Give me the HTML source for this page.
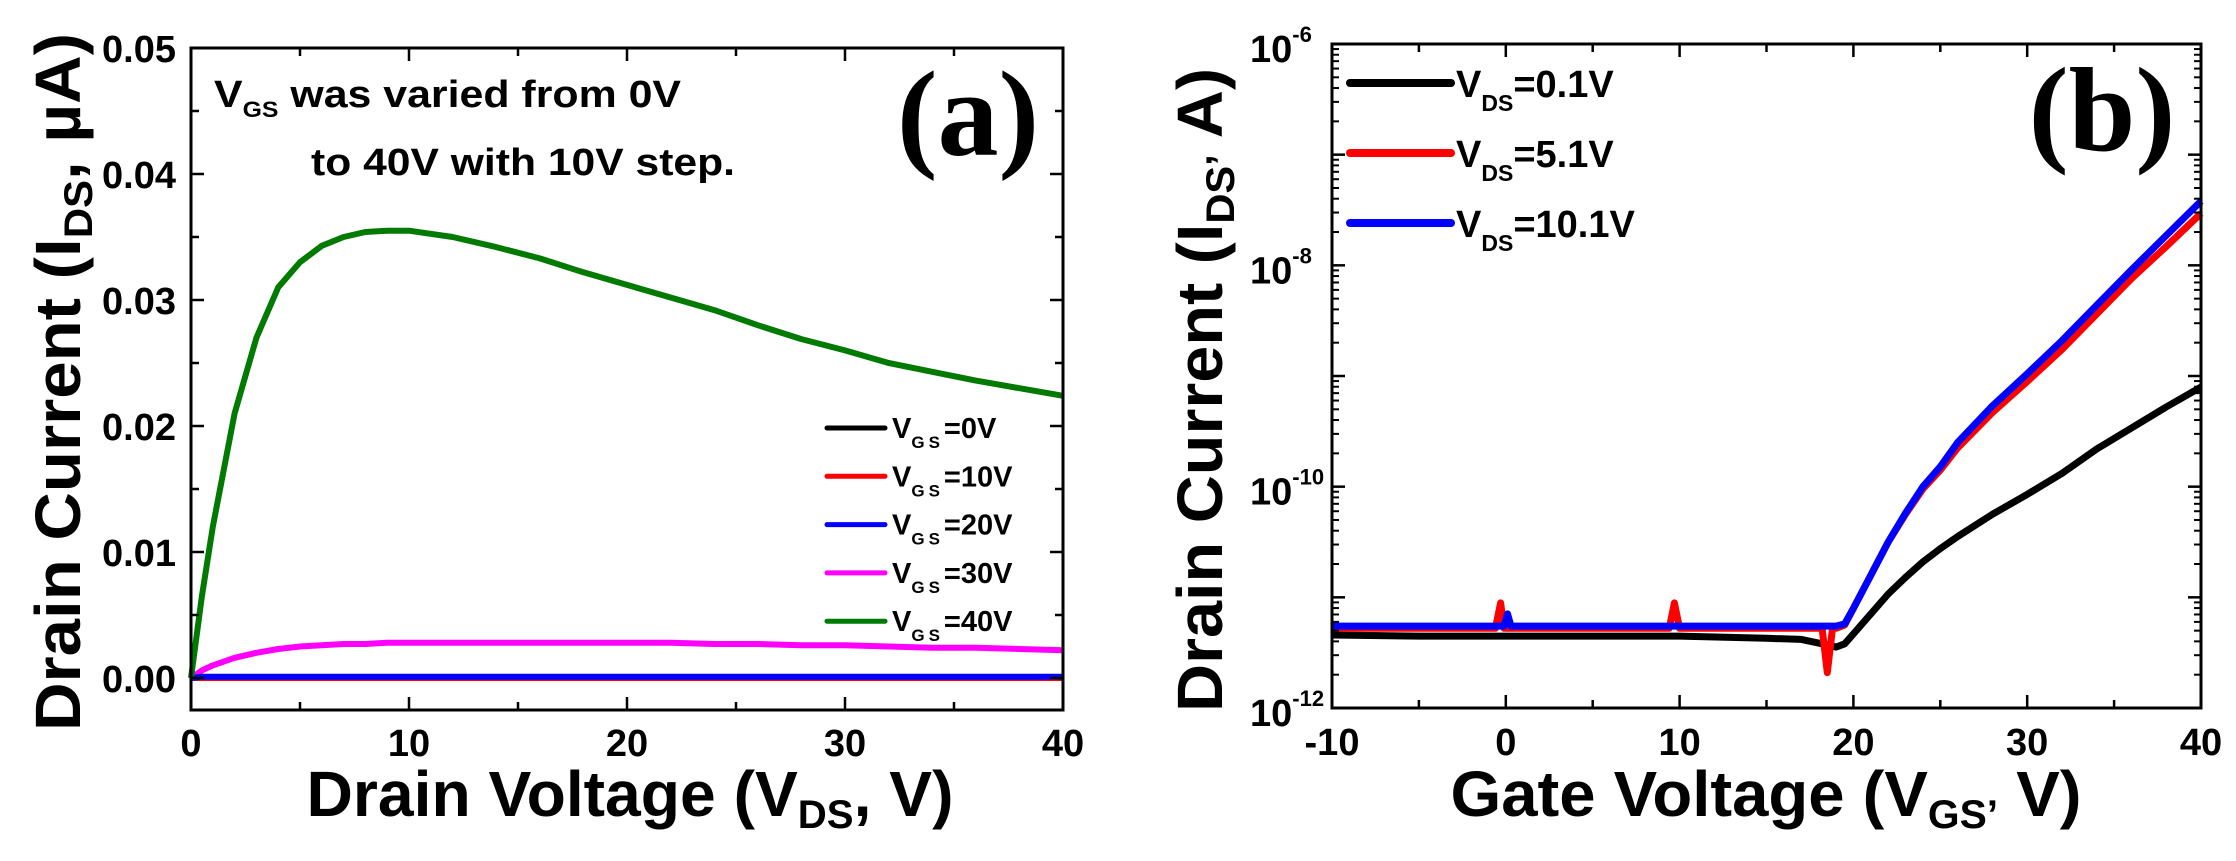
<!DOCTYPE html>
<html><head><meta charset="utf-8"><style>
html,body{margin:0;padding:0;background:#fff;}
svg{display:block;font-family:"Liberation Sans",Arial,sans-serif;}
</style></head><body>
<svg id="fig" width="2236" height="861" viewBox="0 0 2236 861" xmlns="http://www.w3.org/2000/svg">
<g id="pa"></g>
<g id="pb"></g>
</svg>
<script>
// ---------- Panel (a) data ----------
const aX = [0,0.5,1,2,3,4,5,6,7,8,9,10,12,14,16,18,20,22,24,26,28,30,32,34,36,38,40];
const aGreen = [0,0.0065,0.012,0.021,0.027,0.031,0.033,0.0343,0.035,0.0354,0.0355,0.0355,0.035,0.0342,0.0333,0.0322,0.0312,0.0302,0.0292,0.028,0.0269,0.026,0.025,0.0243,0.0236,0.023,0.0224];
const aMagenta = [0,0.0006,0.001,0.0016,0.002,0.0023,0.0025,0.0026,0.0027,0.0027,0.0028,0.0028,0.0028,0.0028,0.0028,0.0028,0.0028,0.0028,0.0027,0.0027,0.0026,0.0026,0.0025,0.0024,0.0024,0.0023,0.0022];
const aBlack = [0,0,0,0,0,0,0,0,0,0,0,0,0,0,0,0,0,0,0,0,0,0,0,0,0,0,0];
const aRed = [0,0,0,0,0,0,0,0,0,0,0,0,0,0,0,0,0,0,0,0,0,0,0,0,0,0,0];
const aBlue = [0,0.0001,0.0001,0.0001,0.0001,0.0001,0.0001,0.0001,0.0001,0.0001,0.0001,0.0001,0.0001,0.0001,0.0001,0.0001,0.0001,0.0001,0.0001,0.0001,0.0001,0.0001,0.0001,0.0001,0.0001,0.0001,0.0001];
const aXTicks = [0,10,20,30,40];
const aYTicks = [0,0.01,0.02,0.03,0.04,0.05];
const aYTickLabels = ["0.00","0.01","0.02","0.03","0.04","0.05"];
const aLegend = ["0V","10V","20V","30V","40V"];
const aColors = ["#000","#ff0000","#0000ff","#ff00ff","#007a00"];

// ---------- Panel (b) data (log10 of current, A) ----------
const bX = [-10,-5,-0.6,-0.3,-0.1,0.1,0.3,0.6,5,9.4,9.7,10,15,17,18.2,18.5,18.8,19,19.5,20,21,22,23,24,25,26,28,30,32,34,36,38,40];
const bBlack = [-11.34,-11.35,-11.35,-11.35,-11.35,-11.35,-11.35,-11.35,-11.35,-11.35,-11.35,-11.35,-11.37,-11.38,-11.42,-11.43,-11.44,-11.45,-11.42,-11.33,-11.15,-10.97,-10.82,-10.68,-10.56,-10.45,-10.25,-10.07,-9.88,-9.66,-9.47,-9.28,-9.1];
const bRed = [-11.28,-11.28,-11.28,-11.05,-11.28,-11.28,-11.28,-11.28,-11.28,-11.28,-11.05,-11.28,-11.28,-11.28,-11.28,-11.68,-11.28,-11.28,-11.25,-11.1,-10.8,-10.5,-10.25,-10.02,-9.85,-9.65,-9.33,-9.05,-8.76,-8.44,-8.12,-7.83,-7.53];
const bBlue = [-11.26,-11.26,-11.26,-11.26,-11.26,-11.15,-11.26,-11.26,-11.26,-11.26,-11.26,-11.26,-11.26,-11.26,-11.26,-11.26,-11.26,-11.26,-11.24,-11.1,-10.8,-10.5,-10.24,-10.0,-9.82,-9.6,-9.27,-8.98,-8.68,-8.36,-8.04,-7.73,-7.42];
const bXTicks = [-10,0,10,20,30,40];
const bYDecades = [-12,-11,-10,-9,-8,-7,-6];
const bYLabelExp = ["-12","-10","-8","-6"];
const bLegend = ["0.1V","5.1V","10.1V"];
const bColors = ["#000","#ff0000","#0000ff"];

const NS = "http://www.w3.org/2000/svg";
function mk(tag, attrs, parent, txt){
  const e = document.createElementNS(NS, tag);
  for (const k in attrs) e.setAttribute(k, attrs[k]);
  if (txt !== undefined) e.textContent = txt;
  parent.appendChild(e);
  return e;
}

// ---------- Panel (a) ----------
const pa = document.getElementById('pa');
const AL=191, AR=1063, AT=48, AB=710;
const ax = v => AL + (v-0)/40*(AR-AL);
const ay = v => 678 - v*12600;

function aLine(ys, color, name){
  let d = aX.map((x,i)=>(i?'L':'M')+ax(x).toFixed(1)+' '+ay(ys[i]).toFixed(1)).join(' ');
  const p = mk('path',{d:d,fill:'none',stroke:color,'stroke-width':6,'stroke-linejoin':'round'},pa);
  
  
}
aLine(aBlack,"#000","curve-vgs-0v");
aLine(aRed,"#ff0000","curve-vgs-10v");
aLine(aMagenta,"#ff00ff","curve-vgs-30v");
aLine(aBlue,"#0000ff","curve-vgs-20v");
aLine(aGreen,"#007a00","curve-vgs-40v");

const fa = mk('rect',{x:AL,y:AT,width:AR-AL,height:AB-AT,fill:'none',stroke:'#000','stroke-width':3},pa);



for (let v=0; v<=40; v+=5){
  const major = v%10===0, L = major?13:8;
  mk('line',{x1:ax(v),x2:ax(v),y1:AB,y2:AB-L,stroke:'#000','stroke-width':2.5},pa);
  mk('line',{x1:ax(v),x2:ax(v),y1:AT,y2:AT+L,stroke:'#000','stroke-width':2.5},pa);
}
aXTicks.forEach(v=>{
  const t = mk('text',{x:ax(v),y:756,'text-anchor':'middle','font-size':38,'font-weight':'bold'},pa,String(v));
  
  
});
for (let i=0;i<=10;i++){
  const v=i*0.005, major=i%2===0, L=major?13:8;
  mk('line',{x1:AL,x2:AL+L,y1:ay(v),y2:ay(v),stroke:'#000','stroke-width':2.5},pa);
  mk('line',{x1:AR,x2:AR-L,y1:ay(v),y2:ay(v),stroke:'#000','stroke-width':2.5},pa);
}
aYTicks.forEach((v,i)=>{
  const t = mk('text',{x:176,y:ay(v)+14,'text-anchor':'end','font-size':38,'font-weight':'bold'},pa,aYTickLabels[i]);
  
  
});
const xta = mk('text',{x:630,y:816,'text-anchor':'middle','font-size':64,'font-weight':'bold',textLength:647,lengthAdjust:'spacingAndGlyphs'},pa);


xta.innerHTML = 'Drain Voltage (V<tspan font-size="40" dy="12">DS</tspan><tspan dy="-12">, V)</tspan>';
const yta = mk('text',{x:0,y:0,'text-anchor':'middle','font-size':64,'font-weight':'bold',textLength:698,lengthAdjust:'spacingAndGlyphs',transform:'translate(80,382) rotate(-90)'},pa);


yta.innerHTML = 'Drain Current (I<tspan font-size="40" dy="12">DS</tspan><tspan dy="-12">, µA)</tspan>';
const an1 = mk('text',{x:214,y:107,'font-size':38,'font-weight':'bold',textLength:467,lengthAdjust:'spacingAndGlyphs'},pa);


an1.innerHTML = 'V<tspan font-size="22" dy="10">GS</tspan><tspan dy="-10"> was varied from 0V</tspan>';
const an2 = mk('text',{x:311,y:175,'font-size':38,'font-weight':'bold',textLength:424,lengthAdjust:'spacingAndGlyphs'},pa,'to 40V with 10V step.');


const la = mk('text',{x:968,y:155,'text-anchor':'middle','font-size':122,'font-weight':'bold','font-family':'"Liberation Serif",serif'},pa,'(a)');


aLegend.forEach((lab,i)=>{
  const y = 428 + i*48.3;
  const g = mk('g',{},pa);
  
  
  mk('line',{x1:827,x2:885,y1:y,y2:y,stroke:aColors[i],'stroke-width':5,'stroke-linecap':'round'},g);
  const t = mk('text',{x:892,y:y+10,'font-size':29,'font-weight':'bold'},g);
  t.innerHTML = 'V<tspan font-size="17" dy="10" letter-spacing="4">GS</tspan><tspan dy="-10">='+lab+'</tspan>';
});

// ---------- Panel (b) ----------
const pb = document.getElementById('pb');
const BL=1332, BR=2201, BT=44, BB=708;
const bx = v => BL + (v+10)/50*(BR-BL);
const by = e => BB - (e+12)*(BB-BT)/6;

function bLine(ys, color, name){
  let d = bX.map((x,i)=>(i?'L':'M')+bx(x).toFixed(1)+' '+by(ys[i]).toFixed(1)).join(' ');
  const p = mk('path',{d:d,fill:'none',stroke:color,'stroke-width':7,'stroke-linejoin':'round'},pb);
  
  
}
bLine(bBlack,"#000","curve-vds-0.1v");
bLine(bRed,"#ff0000","curve-vds-5.1v");
bLine(bBlue,"#0000ff","curve-vds-10.1v");

const fb = mk('rect',{x:BL,y:BT,width:BR-BL,height:BB-BT,fill:'none',stroke:'#000','stroke-width':3},pb);



for (let v=-10; v<=40; v+=5){
  const major = v%10===0, L = major?13:8;
  mk('line',{x1:bx(v),x2:bx(v),y1:BB,y2:BB-L,stroke:'#000','stroke-width':2.5},pb);
  mk('line',{x1:bx(v),x2:bx(v),y1:BT,y2:BT+L,stroke:'#000','stroke-width':2.5},pb);
}
bXTicks.forEach(v=>{
  const t = mk('text',{x:bx(v),y:755,'text-anchor':'middle','font-size':38,'font-weight':'bold'},pb,String(v));
  
  
});
bYDecades.forEach(d=>{
  mk('line',{x1:BL,x2:BL+13,y1:by(d),y2:by(d),stroke:'#000','stroke-width':2.5},pb);
  mk('line',{x1:BR,x2:BR-13,y1:by(d),y2:by(d),stroke:'#000','stroke-width':2.5},pb);
  if (d<-6){
    for (let m=2;m<=9;m++){
      const yy = by(d+Math.log10(m));
      mk('line',{x1:BL,x2:BL+7,y1:yy,y2:yy,stroke:'#000','stroke-width':2},pb);
      mk('line',{x1:BR,x2:BR-7,y1:yy,y2:yy,stroke:'#000','stroke-width':2},pb);
    }
  }
});
bYLabelExp.forEach(e=>{
  const t = mk('text',{x:1250,y:by(+e)+18,'font-size':38,'font-weight':'bold'},pb);
  
  
  t.innerHTML = '10<tspan font-size="22" dy="-20">'+e+'</tspan>';
});
const xtb = mk('text',{x:1766,y:816,'text-anchor':'middle','font-size':64,'font-weight':'bold',textLength:631,lengthAdjust:'spacingAndGlyphs'},pb);


xtb.innerHTML = 'Gate Voltage (V<tspan font-size="40" dy="12">GS\u2019</tspan><tspan dy="-12"> V)</tspan>';
const ytb = mk('text',{x:0,y:0,'text-anchor':'middle','font-size':64,'font-weight':'bold',textLength:644,lengthAdjust:'spacingAndGlyphs',transform:'translate(1222,390) rotate(-90)'},pb);


ytb.innerHTML = 'Drain Current (I<tspan font-size="40" dy="12">DS\u2019</tspan><tspan dy="-12"> A)</tspan>';
const lb = mk('text',{x:2102,y:150,'text-anchor':'middle','font-size':120,'font-weight':'bold','font-family':'"Liberation Serif",serif'},pb,'(b)');


bLegend.forEach((lab,i)=>{
  const y = 83 + i*70;
  const g = mk('g',{},pb);
  
  
  mk('line',{x1:1350,x2:1451,y1:y,y2:y,stroke:bColors[i],'stroke-width':8,'stroke-linecap':'round'},g);
  const t = mk('text',{x:1456,y:y+14,'font-size':38,'font-weight':'bold'},g);
  t.innerHTML = 'V<tspan font-size="23" dy="14">DS</tspan><tspan dy="-14">='+lab+'</tspan>';
});
</script>
</body></html>
